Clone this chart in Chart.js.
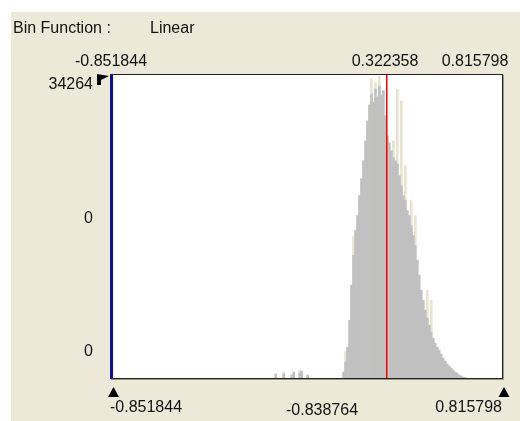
<!DOCTYPE html>
<html>
<head>
<meta charset="utf-8">
<script src="https://cdn.jsdelivr.net/npm/chart.js@4"></script>
<style>
  html, body { margin: 0; padding: 0; background: #fff; }
  #panel { position: absolute; left: 11px; top: 12px; width: 509px; height: 409px; background: #ece9d8; }
  #hist { position: absolute; left: 0; top: 0; }
</style>
</head>
<body>
<div id="panel"></div>
<canvas id="hist" width="520" height="421"></canvas>
<script>
// ── value range of the histogram ──
const xMin = -0.851844;
const xMax = 0.815798;
const yMax = 34264;
const markerValue = 0.322358;

// ── tick / header labels ──
const headerLabels = ['Bin Function :', 'Linear'];
const topTicks = ['-0.851844', '0.322358', '0.815798'];
const bottomTicks = ['-0.851844', '-0.838764', '0.815798'];
const yTicks = ['34264', '0', '0'];

// ── bins (centres) and counts ──
const binCenters = [
  -0.149, -0.115, -0.081, -0.0725, -0.047, -0.0385, -0.013,
  0.14, 0.1485, 0.157, 0.1655, 0.174, 0.1825, 0.191, 0.1995, 0.208, 0.2165,
  0.225, 0.2335, 0.242, 0.2505, 0.259, 0.2675, 0.276, 0.2845, 0.293, 0.3015,
  0.31, 0.3185, 0.327, 0.3355, 0.344, 0.3525, 0.361, 0.3695, 0.378, 0.3865,
  0.395, 0.4035, 0.412, 0.4205, 0.429, 0.4375, 0.446, 0.4545, 0.463, 0.4715,
  0.48, 0.4885, 0.497, 0.5055, 0.514, 0.5225, 0.531, 0.5395, 0.548, 0.5565,
  0.565, 0.5735, 0.582, 0.5905, 0.599, 0.6075, 0.616, 0.6245, 0.633, 0.6415,
  0.65, 0.6585
];
const grayCounts = [
  451, 451, 338, 676, 564, 789, 338,
  676, 1803, 3494, 6537, 10481, 13862, 16680, 18370, 20624, 22540,
  24569, 26823, 29077, 30900, 32100, 31200, 32700, 31800, 33000, 32000,
  32500, 29640, 27386, 26597, 25696, 24907, 24569, 24231, 22878, 21751,
  20624, 20061, 18934, 18370, 17243, 16116, 14989, 13299, 11608, 9918,
  8791, 7664, 6762, 5974, 5184, 4508, 3944, 3494, 3156, 2705,
  2254, 1916, 1578, 1352, 1127, 902, 676, 564, 338, 225,
  113, 56
];
// lighter spikes standing above the grey bars
const spikeCenters = [-0.115, -0.047, 0.1485, 0.1825, 0.259, 0.276, 0.293, 0.3525, 0.3695, 0.3865, 0.4035, 0.429, 0.446, 0.497, 0.514];
const spikeCounts  = [700, 900, 3000, 16000, 33810, 33400, 34100, 26823, 32683, 31331, 24000, 20061, 18370, 9918, 8791];

const FONT = '16px "Liberation Sans", Arial, sans-serif';

const decor = {
  id: 'decor',
  beforeDatasetsDraw(chart) {
    const { ctx, chartArea: a } = chart;
    ctx.save();
    ctx.fillStyle = '#fff';
    ctx.fillRect(a.left, a.top, a.right - a.left, a.bottom - a.top);
    ctx.restore();
  },
  afterDatasetsDraw(chart) {
    const { ctx, chartArea: a, scales: { x } } = chart;
    ctx.save();
    // red marker line
    const mx = Math.round(x.getPixelForValue(markerValue));
    ctx.fillStyle = '#ff0000';
    ctx.fillRect(mx, a.top, 1.5, a.bottom - a.top);
    // blue min line
    ctx.fillStyle = '#0000ff';
    ctx.fillRect(Math.round(x.getPixelForValue(xMin)), a.top, 2, a.bottom - a.top);
    // frame
    ctx.strokeStyle = '#222';
    ctx.lineWidth = 1;
    ctx.strokeRect(a.left - 0.5, a.top - 0.5, a.right - a.left + 1, a.bottom - a.top + 1);
    ctx.strokeStyle = '#9a9888';
    ctx.beginPath();
    ctx.moveTo(a.right + 1.5, a.top); ctx.lineTo(a.right + 1.5, a.bottom + 1.5); ctx.lineTo(a.left, a.bottom + 1.5);
    ctx.stroke();

    // markers
    ctx.fillStyle = '#000';
    const tri = (cx, y) => {
      ctx.beginPath();
      ctx.moveTo(cx, y); ctx.lineTo(cx + 5.5, y + 10); ctx.lineTo(cx - 5.5, y + 10);
      ctx.closePath(); ctx.fill();
    };
    tri(a.left + 2.5, 387);
    tri(a.right + 2, 387);
    ctx.beginPath();
    ctx.moveTo(97, a.top - 1); ctx.lineTo(109, a.top + 1); ctx.lineTo(101, a.top + 5);
    ctx.lineTo(101, a.top + 10); ctx.lineTo(97, a.top + 10);
    ctx.closePath(); ctx.fill();

    // texts
    ctx.font = FONT;
    ctx.fillStyle = '#111';
    ctx.textBaseline = 'middle';
    ctx.textAlign = 'left';
    ctx.fillText(headerLabels[0], 13, 29);
    ctx.fillText(headerLabels[1], 150, 29);

    ctx.textAlign = 'center';
    ctx.fillText(topTicks[0], a.left, 62);
    ctx.fillText(topTicks[1], mx - 1, 62);
    ctx.fillText(topTicks[2], 475, 62);

    ctx.textAlign = 'left';
    ctx.fillText(bottomTicks[0], a.left - 1, 408);
    ctx.textAlign = 'center';
    ctx.fillText(bottomTicks[1], 322, 411);
    ctx.textAlign = 'right';
    ctx.fillText(bottomTicks[2], a.right, 408);

    ctx.fillText(yTicks[0], 93, 85);
    ctx.fillText(yTicks[1], 93, 219);
    ctx.fillText(yTicks[2], 93, 352);
    ctx.restore();
  }
};

new Chart(document.getElementById('hist'), {
  type: 'bar',
  data: {
    datasets: [
      {
        data: binCenters.map((c, i) => ({ x: c, y: grayCounts[i] })),
        backgroundColor: '#c0c0c0',
        barPercentage: 1, categoryPercentage: 1, grouped: false, order: 0
      },
      {
        data: spikeCenters.map((c, i) => ({ x: c, y: spikeCounts[i] })),
        backgroundColor: '#e8e4cf',
        barPercentage: 1, categoryPercentage: 1, grouped: false, order: 1
      }
    ]
  },
  options: {
    responsive: false,
    animation: false,
    layout: { padding: { left: 111, top: 75, right: 18, bottom: 43 } },
    plugins: { legend: { display: false }, tooltip: { enabled: false } },
    scales: {
      x: { type: 'linear', min: xMin, max: xMax, offset: false, display: false },
      y: { min: 0, max: yMax, display: false }
    }
  },
  plugins: [decor]
});
</script>
</body>
</html>
